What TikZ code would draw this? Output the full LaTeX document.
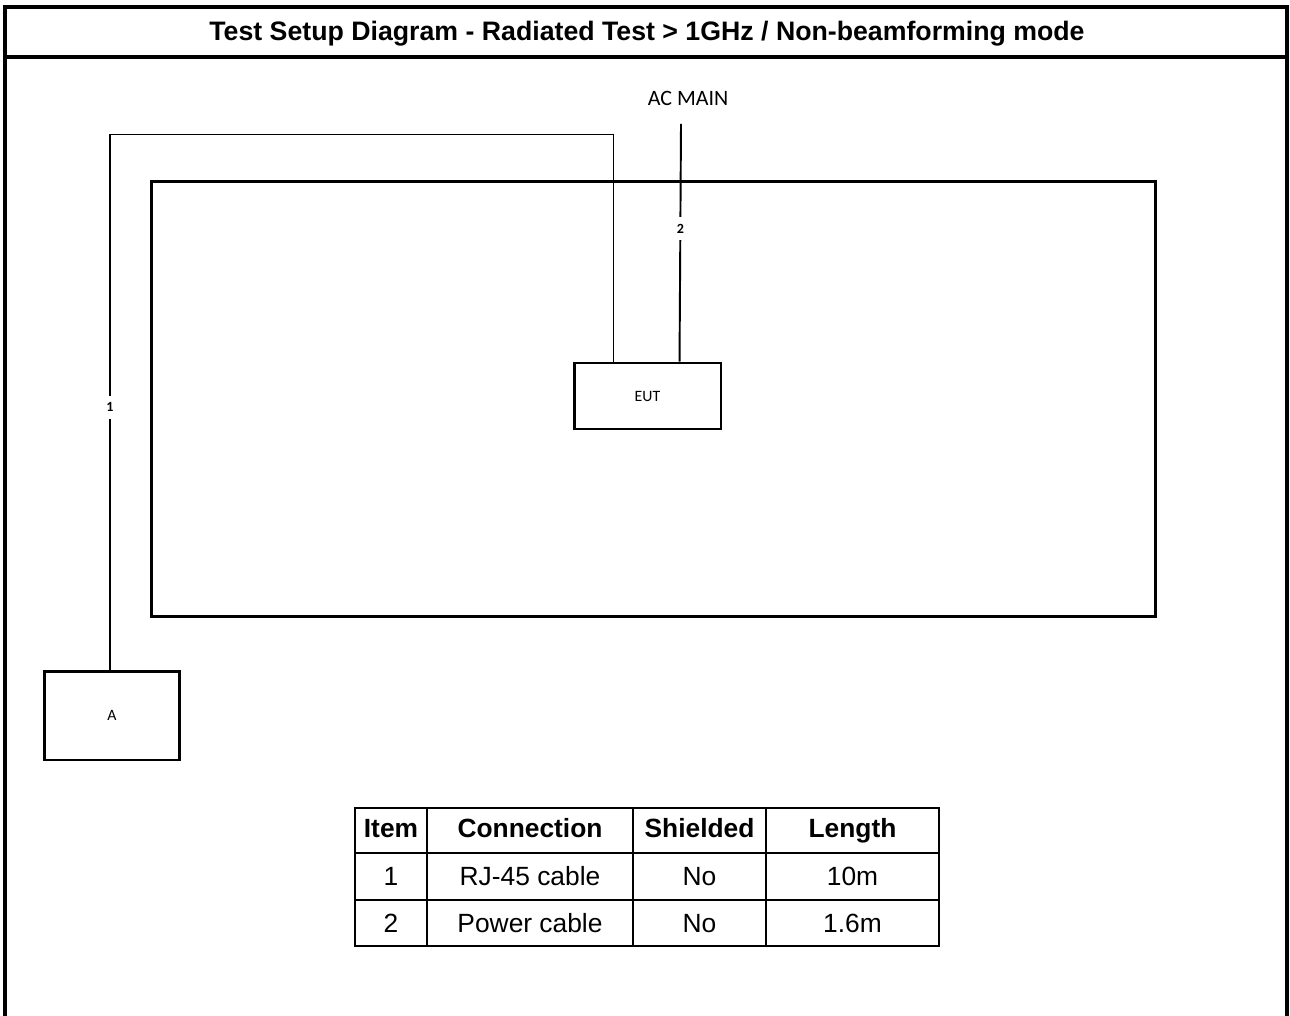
\documentclass[tikz,border=0pt]{standalone}
\usepackage{fontspec}
\setmainfont{Liberation Sans}
\newfontfamily\calibri{Carlito}
\usetikzlibrary{calc}

\tikzset{
	frameline/.style={line width=2.2pt},
	box/.style={draw, line width=1.7pt, rectangle, inner sep=0pt},
	cable/.style={line width=1.1pt},
	cablelbl/.style={fill=white, inner xsep=2pt, inner ysep=4pt, font=\calibri\bfseries\fontsize{8}{9}\selectfont},
	cell/.style={line width=1.2pt},
	hd/.style={anchor=base, font=\bfseries\fontsize{15}{18}\selectfont},
	td/.style={anchor=base, font=\fontsize{15}{18}\selectfont}
}

\begin{document}
\begin{tikzpicture}[x=0.02cm,y=-0.02cm]
	\useasboundingbox (0,0) rectangle (1290,1016);
	% outer frame, open at the bottom
	\draw[frameline] (5,1016) -- (5,7) -- (1287,7) -- (1287,1016);
	\draw[frameline] (5,57) -- (1287,57);
	\node[anchor=base, font=\bfseries\fontsize{15.2}{18}\selectfont] (title) at (647,41)
		{Test Setup Diagram - Radiated Test > 1GHz / Non-beamforming mode};
	% chamber, EUT and support unit
	\node[box, minimum width=20.1cm, minimum height=8.72cm] (chamber) at (653.5,399) {};
	\node[box, minimum width=2.94cm, minimum height=1.32cm, font=\calibri\fontsize{9}{10}\selectfont] (EUT) at (647.5,396) {EUT};
	\node[box, minimum width=2.72cm, minimum height=1.78cm, font=\calibri\fontsize{9}{10}\selectfont] (A) at (112,715.5) {A};
	\node[anchor=base, font=\calibri\fontsize{12.5}{14}\selectfont] (acmainlbl) at (688,106) {AC MAIN};
	\coordinate (acmain) at (681,124);
	\coordinate (eutin1) at ($(EUT.north west)+(41,0)$);
	\coordinate (eutin2) at ($(EUT.north west)+(107,0)$);
	% cables
	\draw[cable] ([xshift=-0.04cm]A.north) -- node[cablelbl, pos=0.49] (lbl1) {1} ++(0,-535) -| (eutin1);
	\draw[cable] (acmain) -- node[cablelbl, pos=0.44] (lbl2) {2} (eutin2);
	% cable table
	\foreach \n/\xa/\xb/\head/\rowa/\rowb in
	{
		1/355/427/Item/1/2,
		2/427/633/Connection/RJ-45 cable/Power cable,
		3/633/766/Shielded/No/No,
		4/766/939/Length/10m/1.6m
	}
	{
		\draw[cell] (\xa,808) rectangle (\xb,946);
		\draw[cell] (\xa,853) -- (\xb,853);
		\draw[cell] (\xa,900) -- (\xb,900);
		\node[hd] (h\n) at ({(\xa+\xb)/2},837) {\head};
		\node[td] (ra\n) at ({(\xa+\xb)/2},885) {\rowa};
		\node[td] (rb\n) at ({(\xa+\xb)/2},932) {\rowb};
	}
\end{tikzpicture}
\end{document}
